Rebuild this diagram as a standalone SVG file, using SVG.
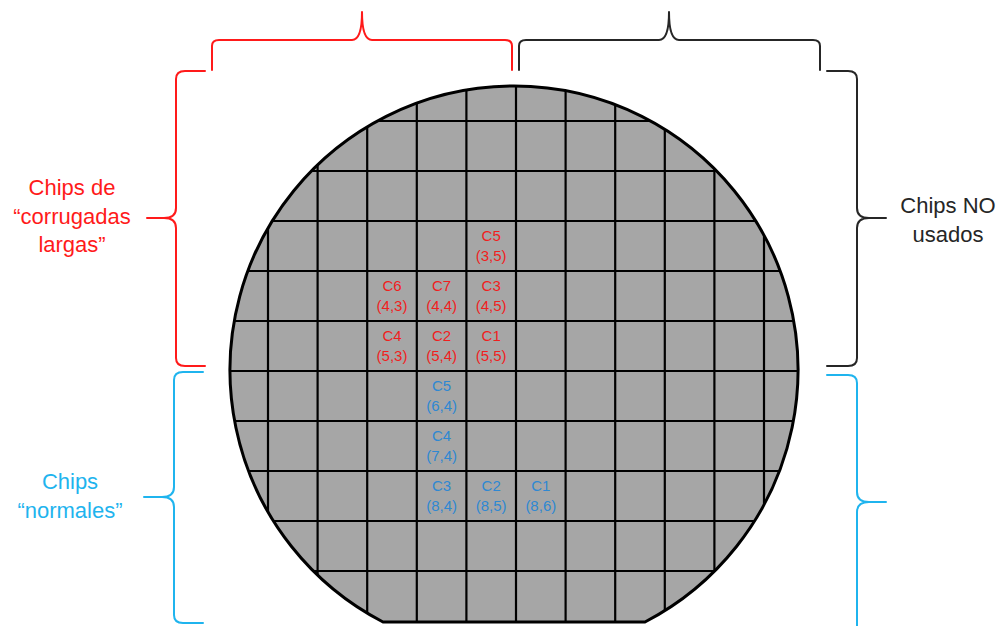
<svg xmlns="http://www.w3.org/2000/svg" width="1001" height="626" viewBox="0 0 1001 626">
<style>
.brace{fill:none;stroke-width:2;stroke-linecap:round;stroke-linejoin:round}
.red{stroke:#ff1a1a}
.blk{stroke:#262626}
.blu{stroke:#1fb4ee}
.grid line{stroke:#000;stroke-width:2.2}
.lbl{font-family:"Liberation Sans",Arial,sans-serif;font-size:22px;text-anchor:middle}
.cell{font-family:"Liberation Sans",Arial,sans-serif;font-size:15px;text-anchor:middle}
.cr{fill:#f01e1e}
.cb{fill:#2f88d2}
</style>
<defs>
<clipPath id="waferClip"><path d="M 383,622 A 284 284 0 1 1 645,622 Z"/></clipPath>
</defs>
<g id="wafer">
<path d="M 383,622 A 284 284 0 1 1 645,622 Z" fill="#a6a6a6"/>
<g class="grid" clip-path="url(#waferClip)">
<line x1="268" y1="60" x2="268" y2="630"/>
<line x1="317.6" y1="60" x2="317.6" y2="630"/>
<line x1="367.2" y1="60" x2="367.2" y2="630"/>
<line x1="416.8" y1="60" x2="416.8" y2="630"/>
<line x1="466.4" y1="60" x2="466.4" y2="630"/>
<line x1="516" y1="60" x2="516" y2="630"/>
<line x1="565.6" y1="60" x2="565.6" y2="630"/>
<line x1="615.2" y1="60" x2="615.2" y2="630"/>
<line x1="664.8" y1="60" x2="664.8" y2="630"/>
<line x1="714.4" y1="60" x2="714.4" y2="630"/>
<line x1="764" y1="60" x2="764" y2="630"/>
<line x1="200" y1="121" x2="820" y2="121"/>
<line x1="200" y1="171" x2="820" y2="171"/>
<line x1="200" y1="221" x2="820" y2="221"/>
<line x1="200" y1="271" x2="820" y2="271"/>
<line x1="200" y1="321" x2="820" y2="321"/>
<line x1="200" y1="371" x2="820" y2="371"/>
<line x1="200" y1="421" x2="820" y2="421"/>
<line x1="200" y1="471" x2="820" y2="471"/>
<line x1="200" y1="521" x2="820" y2="521"/>
<line x1="200" y1="571" x2="820" y2="571"/>
</g>
<path d="M 383,622 A 284 284 0 1 1 645,622 Z" fill="none" stroke="#000" stroke-width="3"/>
</g>
<g id="chips-corrugadas">
<text class="cell cr" x="491.2" y="240.5">C5</text><text class="cell cr" x="491.2" y="261">(3,5)</text>
<text class="cell cr" x="392" y="290.5">C6</text><text class="cell cr" x="392" y="311">(4,3)</text>
<text class="cell cr" x="441.6" y="290.5">C7</text><text class="cell cr" x="441.6" y="311">(4,4)</text>
<text class="cell cr" x="491.2" y="290.5">C3</text><text class="cell cr" x="491.2" y="311">(4,5)</text>
<text class="cell cr" x="392" y="340.5">C4</text><text class="cell cr" x="392" y="361">(5,3)</text>
<text class="cell cr" x="441.6" y="340.5">C2</text><text class="cell cr" x="441.6" y="361">(5,4)</text>
<text class="cell cr" x="491.2" y="340.5">C1</text><text class="cell cr" x="491.2" y="361">(5,5)</text>
</g>
<g id="chips-normales">
<text class="cell cb" x="441.6" y="390.5">C5</text><text class="cell cb" x="441.6" y="411">(6,4)</text>
<text class="cell cb" x="441.6" y="440.5">C4</text><text class="cell cb" x="441.6" y="461">(7,4)</text>
<text class="cell cb" x="441.6" y="490.5">C3</text><text class="cell cb" x="441.6" y="511">(8,4)</text>
<text class="cell cb" x="491.2" y="490.5">C2</text><text class="cell cb" x="491.2" y="511">(8,5)</text>
<text class="cell cb" x="540.8" y="490.5">C1</text><text class="cell cb" x="540.8" y="511">(8,6)</text>
</g>
<g id="connectors">
<path class="brace red" d="M 212,70 L 212,46 Q 212,40 219,40 L 352,40 Q 362,40 362,12 Q 362,40 372,40 L 505,40 Q 512,40 512,46 L 512,70"/>
<path class="brace blk" d="M 519,70 L 519,46 Q 519,40 526,40 L 659,40 Q 669,40 669,12 Q 669,40 679,40 L 813,40 Q 820,40 820,46 L 820,70"/>
<path class="brace red" d="M 205,71 L 185,71 Q 176,71 176,79 L 176,208 Q 176,218 164,218 L 147,218 M 164,218 Q 176,218 176,228 L 176,358 Q 176,366 185,366 L 205,366"/>
<path class="brace blk" d="M 827,71 L 848,71 Q 857,71 857,79 L 857,208 Q 857,218 869,218 L 886,218 M 869,218 Q 857,218 857,228 L 857,358 Q 857,366 848,366 L 827,366"/>
<path class="brace blu" d="M 203,372 L 183,372 Q 174,372 174,380 L 174,487 Q 174,497 162,497 L 144,497 M 162,497 Q 174,497 174,507 L 174,615 Q 174,623 183,623 L 203,623"/>
<path class="brace blu" d="M 827,375 L 848,375 Q 857,375 857,383 L 857,492 Q 857,502 869,502 L 886,502 M 869,502 Q 857,502 857,512 L 857,640"/>
</g>
<g id="label-corrugadas">
<text class="lbl" fill="#ff1a1a" x="72" y="195">Chips de</text>
<text class="lbl" fill="#ff1a1a" x="72" y="224">“corrugadas</text>
<text class="lbl" fill="#ff1a1a" x="72" y="252">largas”</text>
</g>
<g id="label-no-usados">
<text class="lbl" fill="#262626" x="948" y="213">Chips NO</text>
<text class="lbl" fill="#262626" x="948" y="242">usados</text>
</g>
<g id="label-normales">
<text class="lbl" fill="#1fb4ee" x="70" y="489">Chips</text>
<text class="lbl" fill="#1fb4ee" x="70" y="518">“normales”</text>
</g>
</svg>
